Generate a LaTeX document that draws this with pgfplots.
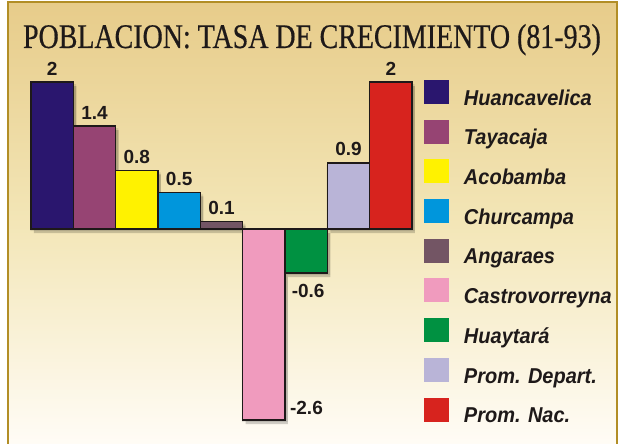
\documentclass[border=0pt]{standalone}
\usepackage{fontspec}
\setmainfont{Liberation Sans}
\newfontfamily\titlefont[FakeStretch=0.81,FakeBold=0.5]{Liberation Serif}
\newfontfamily\legfont[FakeStretch=0.93]{Liberation Sans}
\newfontfamily\labfont{Liberation Sans}
\usepackage{pgfplots}
\pgfplotsset{compat=1.18}
\definecolor{ink}{RGB}{30,25,25}
\definecolor{gold}{RGB}{178,142,38}
\definecolor{bgtop}{RGB}{231,204,138}
\definecolor{bgmid}{RGB}{243,230,183}
\definecolor{bgbot}{RGB}{255,252,246}
\definecolor{cHuan}{RGB}{42,22,110}
\definecolor{cTaya}{RGB}{150,68,115}
\definecolor{cAcob}{RGB}{255,242,0}
\definecolor{cChur}{RGB}{0,150,220}
\definecolor{cAnga}{RGB}{115,85,100}
\definecolor{cCast}{RGB}{240,155,190}
\definecolor{cHuay}{RGB}{0,145,65}
\definecolor{cDep}{RGB}{185,180,215}
\definecolor{cNac}{RGB}{215,35,30}
\begin{document}
\begin{tikzpicture}
\useasboundingbox (0pt,0pt) rectangle (621pt,444pt);
\fill[white] (0pt,0pt) rectangle (621pt,444pt);
\shade[top color=bgtop, bottom color=bgbot, middle color=bgmid] (8pt,0pt) rectangle (617pt,441.5pt);
\draw[gold, line width=2pt] (8pt,-2pt) -- (8pt,441.5pt) -- (617pt,441.5pt) -- (617pt,-2pt);
\node[anchor=base, inner sep=0pt, text=ink, font=\titlefont\fontsize{34.5}{36}\selectfont] at (312pt,396pt) {POBLACION: TASA DE CRECIMIENTO (81-93)};
\begin{axis}[
  at={(31pt,16.5pt)}, anchor=south west,
  scale only axis, width=381pt, height=367.5pt,
  xmin=-0.5, xmax=8.5, ymin=-2.7, ymax=2.3,
  axis lines=none, ticks=none, clip=false,
  ybar, bar width=1, 
  point meta=explicit symbolic,
  every node near coord/.append style={font=\labfont\bfseries\fontsize{19}{21}\selectfont, text=ink, inner sep=0pt},
  legend image code/.code={\fill[#1,draw=none] (0pt,-4.3pt) rectangle (25pt,19.7pt);},
  legend cell align=left,
  legend style={draw=none, fill=none, inner sep=0pt, outer sep=0pt,
    at={(1.0315,0.9456)}, anchor=north west, row sep=10.5pt,
    font=\legfont\bfseries\itshape\fontsize{21.5}{24}\selectfont, text=ink,
    nodes={inner sep=0pt, text height=15pt, text depth=4pt},
    /tikz/every odd column/.append style={column sep=15pt}},
]
% soft shadows
\addplot[fill=black, draw=none, opacity=0.10, bar shift=0pt, forget plot, xshift=1pt, yshift=-2pt, bar width=1.08]
  coordinates {(0,2)(1,1.4)(2,0.8)(3,0.5)(4,0.1)(5,-2.6)(6,-0.6)(7,0.9)(8,2)};
\addplot[fill=black, draw=none, opacity=0.18, bar shift=0pt, forget plot, xshift=3pt, yshift=-4pt]
  coordinates {(0,2)(1,1.4)(2,0.8)(3,0.5)(4,0.1)(5,-2.6)(6,-0.6)(7,0.9)(8,2)};
\addplot[fill=cHuan, draw=ink, line width=1.5pt, bar shift=0pt, nodes near coords, every node near coord/.append style={anchor=south, yshift=6pt}] coordinates {(0,2) [2]};
\addlegendentry{Huancavelica}
\addplot[fill=cTaya, draw=ink, line width=1.5pt, bar shift=0pt, nodes near coords, every node near coord/.append style={anchor=south, yshift=6pt}] coordinates {(1,1.4) [1.4]};
\addlegendentry{Tayacaja}
\addplot[fill=cAcob, draw=ink, line width=1.5pt, bar shift=0pt, nodes near coords, every node near coord/.append style={anchor=south, yshift=6pt}] coordinates {(2,0.8) [0.8]};
\addlegendentry{Acobamba}
\addplot[fill=cChur, draw=ink, line width=1.5pt, bar shift=0pt, nodes near coords, every node near coord/.append style={anchor=south, yshift=6pt}] coordinates {(3,0.5) [0.5]};
\addlegendentry{Churcampa}
\addplot[fill=cAnga, draw=ink, line width=1.5pt, bar shift=0pt, nodes near coords, every node near coord/.append style={anchor=south, yshift=6pt}] coordinates {(4,0.1) [0.1]};
\addlegendentry{Angaraes}
\addplot[fill=cCast, draw=ink, line width=1.5pt, bar shift=0pt, nodes near coords, every node near coord/.append style={anchor=west, xshift=25.5pt, yshift=12pt}] coordinates {(5,-2.6) [-2.6]};
\addlegendentry{Castrovorreyna}
\addplot[fill=cHuay, draw=ink, line width=1.5pt, bar shift=0pt, nodes near coords, every node near coord/.append style={anchor=north, xshift=2pt, yshift=-10pt}] coordinates {(6,-0.6) [-0.6]};
\addlegendentry{Huaytará}
\addplot[fill=cDep, draw=ink, line width=1.5pt, bar shift=0pt, nodes near coords, every node near coord/.append style={anchor=south, yshift=6pt}] coordinates {(7,0.9) [0.9]};
\addlegendentry{Prom. Depart.}
\addplot[fill=cNac, draw=ink, line width=1.5pt, bar shift=0pt, nodes near coords, every node near coord/.append style={anchor=south, yshift=6pt}] coordinates {(8,2) [2]};
\addlegendentry{Prom. Nac.}
\end{axis}
\end{tikzpicture}
\end{document}
